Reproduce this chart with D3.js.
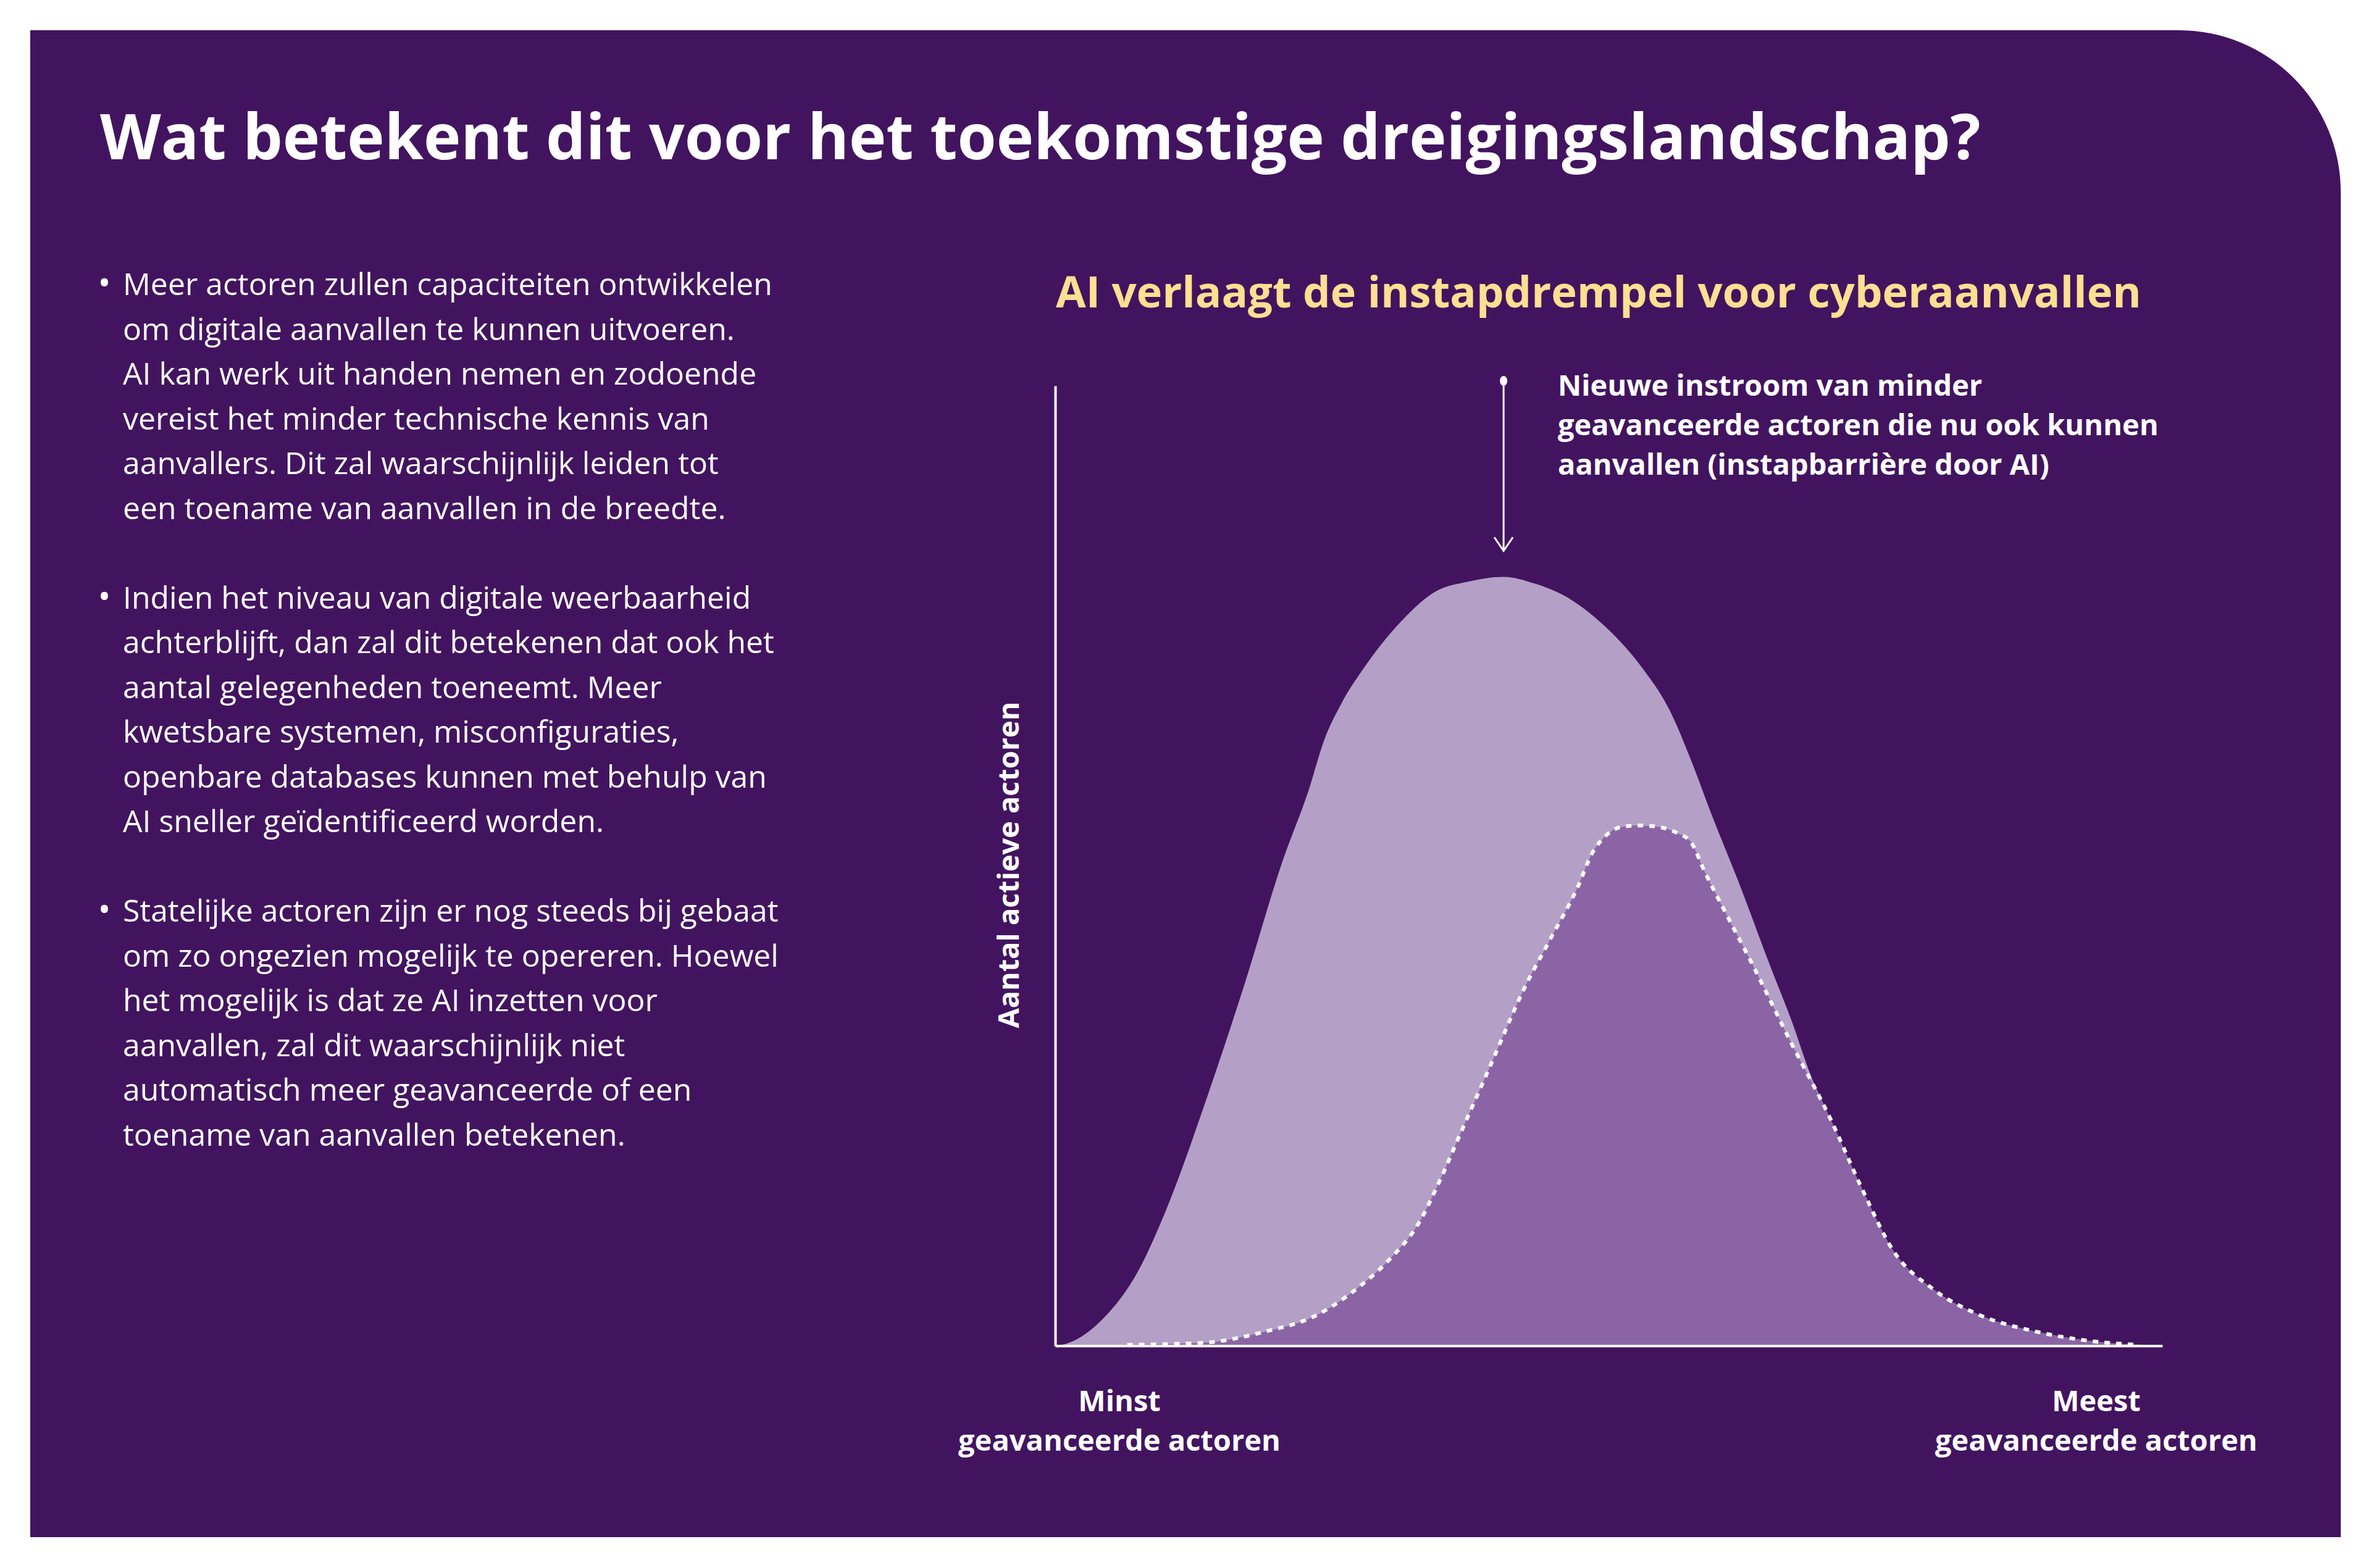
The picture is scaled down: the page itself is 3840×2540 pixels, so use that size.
<!DOCTYPE html>
<html>
<head>
<meta charset="utf-8">
<title>AI verlaagt de instapdrempel voor cyberaanvallen</title>
<script src="https://cdn.jsdelivr.net/npm/d3@7"></script>
<style>
  body { margin: 0; background: #ffffff; }
</style>
</head>
<body>
<script>
var width = 3840;
var height = 2540;

// skill level of actors (0 = minst, 100 = meest geavanceerd), number of actors (0-100)
var withAiSkill = [0, 0.95, 4.3, 7.5, 10.0, 13.6, 17.0, 20.6, 22.9, 24.3, 25.8, 28.0, 31.2, 34.4, 37.3, 40.5, 43.3, 46.2, 49.7, 52.9, 55.5, 57.4, 59.3, 61.9, 64.5, 66.5, 68.3, 70.0, 72.9, 75.7, 79.3, 83.5, 88.5, 93.5, 97.8, 100];
var withAiActors = [0, 0.2, 2.8, 7.8, 14.1, 25.5, 37.3, 50.7, 57.9, 63.1, 66.8, 70.8, 75.4, 78.6, 79.6, 80.1, 79.4, 78.0, 74.9, 70.8, 66.2, 61.1, 55.3, 47.8, 39.8, 33.9, 28.0, 23.7, 16.3, 9.9, 5.9, 3.2, 1.5, 0.5, 0.1, 0];

var currentSkill = [2, 6.5, 13.3, 18.7, 23.8, 27.3, 30.2, 32.8, 34.7, 36.6, 39.2, 42.4, 44.6, 47.2, 48.5, 49.7, 51.0, 52.6, 54.2, 56.2, 57.4, 58.7, 60.6, 62.9, 66.5, 70.0, 72.9, 75.7, 79.3, 83.5, 88.5, 93.5, 97.8, 100];
var currentActors = [0, 0.1, 0.3, 1.4, 3.3, 6.0, 9.0, 12.7, 17.1, 22.1, 28.9, 37.3, 42.1, 47.8, 51.3, 53.1, 54.0, 54.2, 54.1, 53.4, 52.5, 49.3, 45.0, 39.9, 31.5, 23.7, 16.3, 9.9, 5.9, 3.2, 1.5, 0.5, 0.1, 0];

var pageTitle = "Wat betekent dit voor het toekomstige dreigingslandschap?";
var chartTitle = "AI verlaagt de instapdrempel voor cyberaanvallen";
var yLabel = "Aantal actieve actoren";
var xLabelLeft = ["Minst", "geavanceerde actoren"];
var xLabelRight = ["Meest", "geavanceerde actoren"];
var annotation = ["Nieuwe instroom van minder", "geavanceerde actoren die nu ook kunnen", "aanvallen (instapbarrière door AI)"];

var bullets = [
  ["Meer actoren zullen capaciteiten ontwikkelen",
   "om digitale aanvallen te kunnen uitvoeren.",
   "AI kan werk uit handen nemen en zodoende",
   "vereist het minder technische kennis van",
   "aanvallers. Dit zal waarschijnlijk leiden tot",
   "een toename van aanvallen in de breedte."],
  ["Indien het niveau van digitale weerbaarheid",
   "achterblijft, dan zal dit betekenen dat ook het",
   "aantal gelegenheden toeneemt. Meer",
   "kwetsbare systemen, misconfiguraties,",
   "openbare databases kunnen met behulp van",
   "AI sneller geïdentificeerd worden."],
  ["Statelijke actoren zijn er nog steeds bij gebaat",
   "om zo ongezien mogelijk te opereren. Hoewel",
   "het mogelijk is dat ze AI inzetten voor",
   "aanvallen, zal dit waarschijnlijk niet",
   "automatisch meer geavanceerde of een",
   "toename van aanvallen betekenen."]
];

var purple = "#42145f";
var lightFill = "#b4a0c7";
var darkFill = "#8b64a6";
var yellow = "#ffdf91";
var font = "'Open Sans', 'Noto Sans', sans-serif";

var svg = d3.select("body")
  .append("svg")
    .attr("width", width)
    .attr("height", height)
    .style("font-family", font);

// scale a text's font-size so that the given node gets the wanted width
function fitWidth(textSel, node, target) {
  var w = node.getComputedTextLength();
  var fs = +textSel.attr("font-size");
  textSel.attr("font-size", (fs * target / w).toFixed(2));
}

// background panel with rounded top-right corner
var pL = 49, pT = 49, pR = 3791, pB = 2490, rad = 262;
svg.append("path")
    .attr("d", "M" + pL + "," + pT + "H" + (pR - rad) +
               "A" + rad + "," + rad + " 0 0 1 " + pR + "," + (pT + rad) +
               "V" + pB + "H" + pL + "Z")
    .attr("fill", purple);

var title = svg.append("text")
    .attr("x", 162)
    .attr("y", 258)
    .attr("fill", "#fff")
    .attr("font-size", 100)
    .attr("font-weight", 700)
    .text(pageTitle);
fitWidth(title, title.node(), 3046);

// bullet text on the left
var lineH = 72.5;
var lineNo = 0;
var bulletTexts = [];
bullets.forEach(function(par) {
  var top = 478 + lineNo * lineH;
  svg.append("text")
      .attr("x", 169)
      .attr("y", top)
      .attr("text-anchor", "middle")
      .attr("fill", "#fff")
      .attr("font-size", 56)
      .text("•");
  var t = svg.append("text")
      .attr("fill", "#fff")
      .attr("font-size", 44);
  par.forEach(function(line, i) {
    t.append("tspan")
        .attr("x", 199)
        .attr("y", top + i * lineH)
        .text(line);
  });
  bulletTexts.push(t);
  lineNo += par.length + 1;
});
var firstLine = bulletTexts[0].select("tspan").node();
var bulletSize = 44 * 1052 / firstLine.getComputedTextLength();
bulletTexts.forEach(function(t) { t.attr("font-size", bulletSize.toFixed(2)); });

// chart
var xScale = d3.scaleLinear().domain([0, 100]).range([1709, 3502]);
var yScale = d3.scaleLinear().domain([0, 100]).range([2180, 625]);

var cTitle = svg.append("text")
    .attr("x", 1710)
    .attr("y", 498)
    .attr("fill", yellow)
    .attr("font-size", 70)
    .attr("font-weight", 700)
    .text(chartTitle);
fitWidth(cTitle, cTitle.node(), 1758);

var withAi = withAiSkill.map(function(s, i) { return {x: s, y: withAiActors[i]}; });
var current = currentSkill.map(function(s, i) { return {x: s, y: currentActors[i]}; });

var area = d3.area()
    .x(function(d) { return xScale(d.x); })
    .y0(yScale(0))
    .y1(function(d) { return yScale(d.y); })
    .curve(d3.curveMonotoneX);

var line = d3.line()
    .x(function(d) { return xScale(d.x); })
    .y(function(d) { return yScale(d.y); })
    .curve(d3.curveMonotoneX);

svg.append("path")
    .datum(withAi)
    .attr("d", area)
    .attr("fill", lightFill);

svg.append("path")
    .datum(current)
    .attr("d", area)
    .attr("fill", darkFill);

svg.append("path")
    .datum(current.slice(1, -1))
    .attr("d", line)
    .attr("fill", "none")
    .attr("stroke", "#fff")
    .attr("stroke-width", 6)
    .attr("stroke-dasharray", "9,10");

// axes: plain white lines, no ticks
var xAxis = d3.axisBottom(xScale).ticks(0).tickSizeOuter(0);
var yAxis = d3.axisLeft(yScale).ticks(0).tickSizeOuter(0);

svg.append("g")
    .attr("class", "x-axis")
    .attr("transform", "translate(0," + yScale(0) + ")")
    .call(xAxis)
    .select(".domain")
    .attr("stroke", "#fff")
    .attr("stroke-width", 4);

svg.append("g")
    .attr("class", "y-axis")
    .attr("transform", "translate(" + xScale(0) + ",0)")
    .call(yAxis)
    .select(".domain")
    .attr("stroke", "#fff")
    .attr("stroke-width", 4);

var yTitle = svg.append("text")
    .attr("transform", "translate(1650,1401) rotate(-90)")
    .attr("text-anchor", "middle")
    .attr("fill", "#fff")
    .attr("font-size", 48)
    .attr("font-weight", 700)
    .text(yLabel);
fitWidth(yTitle, yTitle.node(), 529);

function axisEndLabel(lines, cx) {
  var t = svg.append("text")
      .attr("text-anchor", "middle")
      .attr("fill", "#fff")
      .attr("font-size", 46)
      .attr("font-weight", 700);
  lines.forEach(function(l, i) {
    t.append("tspan")
        .attr("x", cx)
        .attr("y", 2286 + i * 64)
        .text(l);
  });
  fitWidth(t, t.selectAll("tspan").nodes()[1], 522);
}
axisEndLabel(xLabelLeft, 1813);
axisEndLabel(xLabelRight, 3395);

// annotation arrow pointing at the peak of the new distribution
var peakIdx = d3.maxIndex(withAiActors);
var ax = xScale(withAiSkill[peakIdx]);
var tipY = yScale(withAiActors[peakIdx]) - 42;
var dotY = 617;

svg.append("ellipse")
    .attr("cx", ax)
    .attr("cy", dotY)
    .attr("rx", 6)
    .attr("ry", 8)
    .attr("fill", "#fff");

svg.append("line")
    .attr("x1", ax).attr("x2", ax)
    .attr("y1", dotY).attr("y2", tipY)
    .attr("stroke", "#fff")
    .attr("stroke-width", 3);

svg.append("path")
    .attr("d", "M" + (ax - 15) + "," + (tipY - 22) + "L" + ax + "," + tipY + "L" + (ax + 15) + "," + (tipY - 22))
    .attr("fill", "none")
    .attr("stroke", "#fff")
    .attr("stroke-width", 3);

var ann = svg.append("text")
    .attr("fill", "#fff")
    .attr("font-size", 48)
    .attr("font-weight", 700);
annotation.forEach(function(l, i) {
  ann.append("tspan")
      .attr("x", 2523)
      .attr("y", 641 + i * 64)
      .text(l);
});
fitWidth(ann, ann.selectAll("tspan").nodes()[1], 973);
</script>
</body>
</html>
